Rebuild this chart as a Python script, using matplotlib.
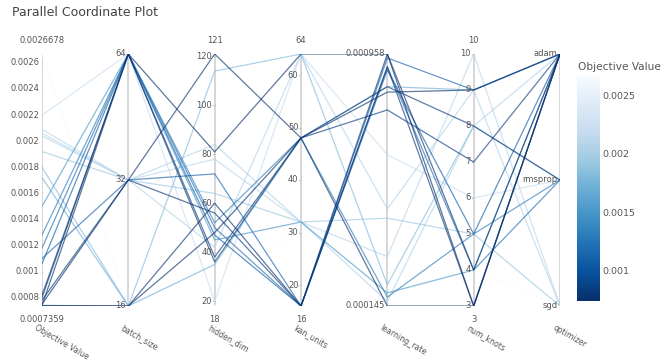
import numpy as np
import matplotlib
matplotlib.use('Agg')
import matplotlib.pyplot as plt
from matplotlib.colors import Normalize
from matplotlib.cm import ScalarMappable

# trial data
objective = [0.00074, 0.0007359, 0.00075, 0.00078, 0.00080, 0.00082, 0.00074, 0.00106,
             0.00110, 0.00118, 0.00128, 0.00150, 0.00172, 0.00180, 0.00192, 0.00204,
             0.00206, 0.00209, 0.00220, 0.0026678]
batch_size = ['64', '16', '32', '32', '64', '64', '16', '64',
              '32', '64', '64', '64', '16', '16', '32', '32',
              '32', '32', '64', '16']
hidden_dim = [81, 60, 121, 56, 36, 38, 48, 47,
              72, 50, 52, 45, 35, 114, 64, 84,
              42, 78, 20, 18]
kan_units = [64, 16, 48, 16, 48, 48, 48, 16,
             16, 16, 48, 32, 48, 64, 32, 32,
             64, 32, 64, 32]
learning_rate = [0.000958, 0.000958, 0.00072, 0.00087, 0.00075, 0.00063, 0.000145, 0.00085,
                 0.00093, 0.00087, 0.000155, 0.00016, 0.00075, 0.00017, 0.00028, 0.000150,
                 0.00030, 0.00021, 0.00045, 0.00019]
num_knots = [3, 4, 9, 3, 8, 7, 3, 5,
             9, 4, 5, 4, 9, 8, 5, 8,
             9, 10, 6, 4]
optimizer = ['adam', 'adam', 'adam', 'adam', 'rmsprop', 'adam', 'adam', 'adam',
             'adam', 'rmsprop', 'rmsprop', 'adam', 'adam', 'rmsprop', 'sgd', 'adam',
             'sgd', 'sgd', 'rmsprop', 'sgd']

dim_names = ['Objective Value', 'batch_size', 'hidden_dim', 'kan_units',
             'learning_rate', 'num_knots', 'optimizer']
batch_cats = ['16', '32', '64']
opt_cats = ['sgd', 'rmsprop', 'adam']

obj = np.array(objective)
lr_log = np.log10(learning_rate)

def scale(v, lo, hi):
    return (np.asarray(v, dtype=float) - lo) / (hi - lo)

cols = [
    scale(obj, obj.min(), obj.max()),
    scale([batch_cats.index(b) for b in batch_size], 0, 2),
    scale(hidden_dim, min(hidden_dim), max(hidden_dim)),
    scale(kan_units, min(kan_units), max(kan_units)),
    scale(lr_log, lr_log.min(), lr_log.max()),
    scale(num_knots, min(num_knots), max(num_knots)),
    scale([opt_cats.index(o) for o in optimizer], 0, 2),
]
Y = np.column_stack(cols)

# ticks per axis: (positions, labels, top label, bottom label)
obj_ticks = np.arange(0.0008, 0.00261, 0.0002)
hd_ticks = np.arange(20, 121, 20)
kan_ticks = np.arange(20, 61, 10)
kn_ticks = np.arange(3, 11)
axis_ticks = [
    (scale(obj_ticks, obj.min(), obj.max()), ['%g' % t for t in np.round(obj_ticks, 4)], '0.0026678', '0.0007359'),
    ([0, 0.5, 1], batch_cats, None, None),
    (scale(hd_ticks, 18, 121), [str(t) for t in hd_ticks], '121', '18'),
    (scale(kan_ticks, 16, 64), [str(t) for t in kan_ticks], '64', '16'),
    ([0, 1], ['0.000145', '0.000958'], None, None),
    (scale(kn_ticks, 3, 10), [str(t) for t in kn_ticks], '10', '3'),
    ([0, 0.5, 1], opt_cats, None, None),
]

W, H = 669, 360
fig = plt.figure(figsize=(W / 100, H / 100), dpi=100)
ax = fig.add_axes([42 / W, 1 - 306 / H, (560 - 42) / W, (306 - 54) / H])
ax.set_xlim(0, 6)
ax.set_ylim(0, 1)
ax.axis('off')

cmap = plt.get_cmap('Blues_r')
norm = Normalize(obj.min(), obj.max())
xs = np.arange(len(dim_names))
order = np.argsort(-obj)
for i in order:
    ax.plot(xs, Y[i], color=cmap(norm(obj[i])), lw=0.9, alpha=0.65, zorder=2,
            solid_joinstyle='round')

txt = '#555555'
fs = 6.0
for k, name in enumerate(dim_names):
    ax.plot([k, k], [0, 1], color='#d0d0d0', lw=1.2, zorder=1)
    pos, labs, top, bot = axis_ticks[k]
    for p, l in zip(pos, labs):
        ax.plot([k - 0.02, k], [p, p], color='#c8c8c8', lw=0.8, zorder=1)
        ax.text(k - 0.03, p, l, ha='right', va='center', fontsize=fs, color=txt, zorder=3)
    if top:
        ax.text(k, 1.035, top, ha='center', va='bottom', fontsize=fs, color=txt, clip_on=False)
    if bot:
        ax.text(k, -0.035, bot, ha='center', va='top', fontsize=fs, color=txt, clip_on=False)
    ax.text(k - 0.05, -0.068, name, ha='left', va='top', rotation=-30, rotation_mode='anchor',
            fontsize=5.6, color=txt, clip_on=False)

fig.text(12 / W, 1 - 12 / H, 'Parallel Coordinate Plot', ha='left', va='center',
         fontsize=9, color='#444444')

cax = fig.add_axes([577 / W, 1 - 301 / H, 23 / W, 225 / H])
cb = fig.colorbar(ScalarMappable(norm=norm, cmap=cmap), cax=cax, ticks=[0.001, 0.0015, 0.002, 0.0025])
cb.outline.set_visible(False)
cb.ax.tick_params(length=0, labelsize=6.8, labelcolor=txt, pad=2)
cb.ax.set_yticklabels(['0.001', '0.0015', '0.002', '0.0025'])
fig.text(578 / W, 1 - 67 / H, 'Objective Value', ha='left', va='center', fontsize=7.6, color=txt)

fig.savefig('out.png', dpi=100)
